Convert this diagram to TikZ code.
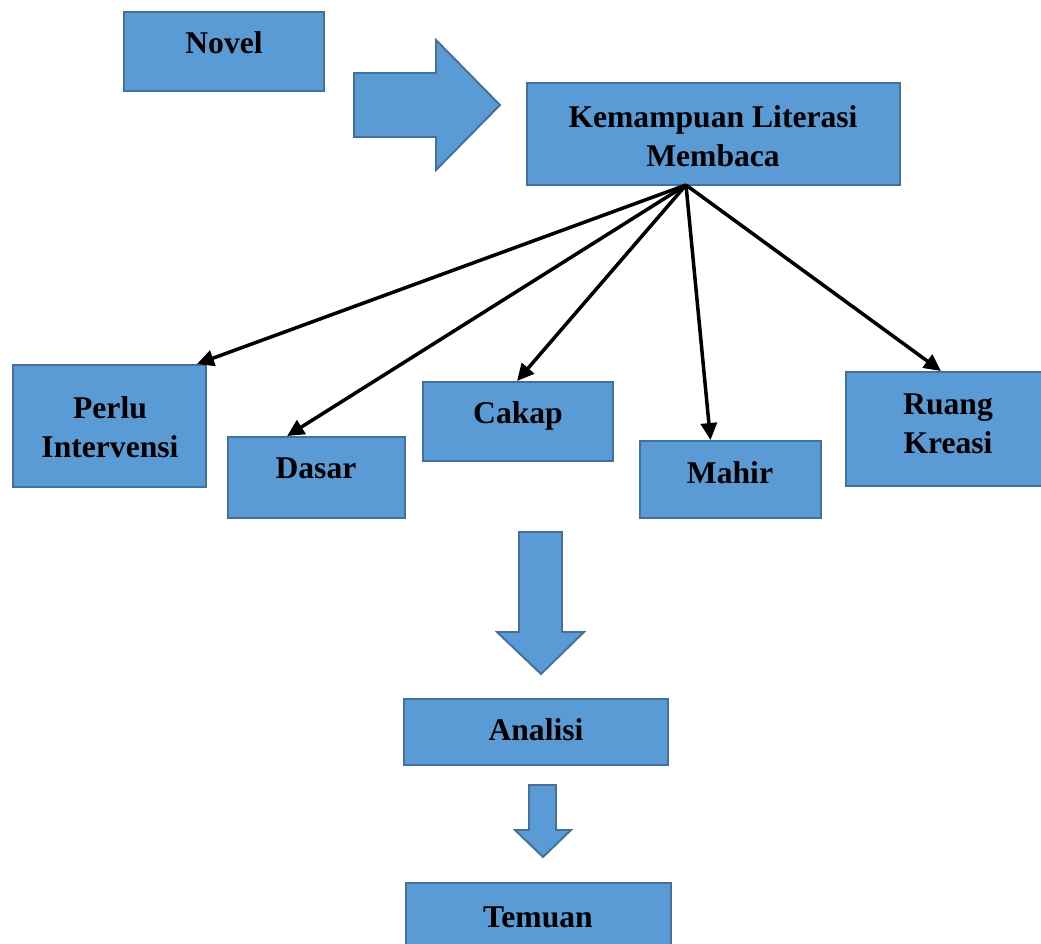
\documentclass[tikz,border=0pt]{standalone}
\usepackage{fontspec}
\setmainfont{Liberation Serif}
\usepackage{tikz}
\usetikzlibrary{arrows.meta, positioning, calc}
\definecolor{boxfill}{HTML}{5B9BD5}
\definecolor{boxline}{HTML}{41719C}
\tikzset{
	box/.style={draw=boxline, fill=boxfill, line width=1.1pt, rectangle},
	lbl/.style={font=\fontsize{18}{22.4}\selectfont\bfseries, align=center, inner sep=0pt},
	blockarrow/.style={draw=boxline, fill=boxfill, line width=1.1pt, line join=miter},
	link/.style={line width=2pt, -{Triangle[length=0.34cm,width=0.32cm]}}
}
\begin{document}
\begin{tikzpicture}[x=0.02cm, y=-0.02cm]
		\useasboundingbox (0,0) rectangle (1041,943);
		% Boxes
		\node[box, minimum width=4cm, minimum height=1.58cm] (novel) at (224,51.5) {};
		\node[box, minimum width=7.46cm, minimum height=2.04cm] (kemampuan) at (713.5,134) {};
		\node[box, minimum width=3.86cm, minimum height=2.44cm] (perlu) at (109.5,426) {};
		\node[box, minimum width=3.54cm, minimum height=1.62cm] (dasar) at (316.5,477.5) {};
		\node[box, minimum width=3.8cm, minimum height=1.58cm] (cakap) at (518,421.5) {};
		\node[box, minimum width=3.62cm, minimum height=1.54cm] (mahir) at (730.5,479.5) {};
		\node[box, minimum width=4.0cm, minimum height=2.28cm] (ruang) at (946,429) {};
		\node[box, minimum width=5.28cm, minimum height=1.32cm] (analisi) at (536,732) {};
		\node[box, minimum width=5.3cm, minimum height=1.4cm] (temuan) at (538.5,918) {};
		% Texts
		\node[lbl, anchor=base] (novel-t) at (224,53) {Novel};
		\node[lbl] (kemampuan-t) at (713,136) {Kemampuan Literasi\\Membaca};
		\node[lbl] (perlu-t) at (110,427) {Perlu\\Intervensi};
		\node[lbl, anchor=base] (dasar-t) at (316,478) {Dasar};
		\node[lbl, anchor=base] (cakap-t) at (518,423) {Cakap};
		\node[lbl, anchor=base] (mahir-t) at (730,483) {Mahir};
		\node[lbl] (ruang-t) at (948,424) {Ruang\\Kreasi};
		\node[lbl, anchor=base] (analisi-t) at (536,740) {Analisi};
		\node[lbl, anchor=base] (temuan-t) at (538,927) {Temuan};
		% Block arrows
		\draw[blockarrow] (354,73) -- (436,73) -- (436,40) -- (500,105) -- (436,170) -- (436,137) -- (354,137) -- cycle;
		\draw[blockarrow] (519,532) -- (562,532) -- (562,632) -- (584,632) -- (541,674) -- (497,632) -- (519,632) -- cycle;
		\draw[blockarrow] (529,785) -- (556,785) -- (556,830) -- (571,830) -- (543,857) -- (515,830) -- (529,830) -- cycle;
		% Links
		\coordinate (hub) at (686,185);
		\draw[link] (hub) -- ($(perlu.north east)+(-10,0)$);
		\draw[link] (hub) -- ($(dasar.north west)+(60,0)$);
		\draw[link] (hub) -- ($(cakap.north)+(-1,0)$);
		\draw[link] (hub) -- ($(mahir.north)+(-20,0)$);
		\draw[link] (hub) -- ($(ruang.north)+(-5,0)$);
	\end{tikzpicture}
\end{document}
